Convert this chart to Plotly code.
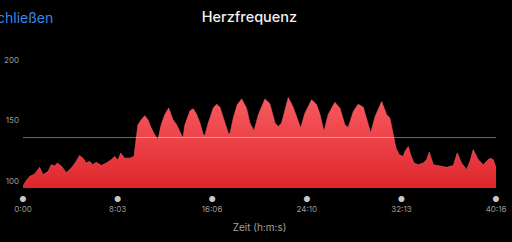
import plotly.graph_objects as go

# time in seconds since start, heart rate (bpm)
time_s = [0, 17, 34, 60, 85, 102, 128, 145, 162, 175, 196, 221, 247, 272, 289, 306, 323, 340,
          357, 374, 400, 425, 451, 468, 485, 499, 519, 545, 567, 574, 587, 604, 622, 638, 655,
          673, 689, 706, 724, 744, 766, 783, 800, 817, 827, 853, 870, 887, 904, 921, 929, 946,
          972, 989, 1006, 1032, 1048, 1057, 1074, 1094, 1117, 1142, 1159, 1180, 1202, 1236,
          1261, 1287, 1304, 1321, 1355, 1380, 1406, 1418, 1440, 1474, 1500, 1517, 1537, 1559,
          1593, 1619, 1644, 1661, 1687, 1712, 1738, 1755, 1776, 1798, 1832, 1857, 1874, 1888,
          1905, 1922, 1942, 1951, 1968, 1980, 1997, 2019, 2044, 2062, 2075, 2096, 2130, 2164,
          2198, 2218, 2240, 2266, 2283, 2300, 2325, 2351, 2368, 2385, 2402, 2411, 2416]
heart_rate = [96, 100.6, 104, 106, 111.5, 105.5, 108, 113.7, 112.5, 115, 112.5, 107, 111, 116.4,
              121.3, 119, 115, 116.4, 113.7, 115.6, 113, 115, 117.8, 120.5, 117.3, 123.3, 119,
              119, 120.5, 130, 146.5, 150.6, 154, 150.6, 143.8, 138.3, 134.2, 146.5, 154.7, 160.2,
              150.6, 147, 141, 135.6, 146.5, 158, 159.6, 155, 147.9, 138.3, 137.7, 147.9, 160.2,
              163.4, 161, 148, 139.7, 139, 152, 162.9, 167.8, 160, 148, 141.6, 154.7, 167.8,
              163.8, 148, 145, 148, 168.9, 161, 148, 143.8, 156, 167, 163, 155, 141, 155,
              165, 160, 146.5, 144.3, 157.4, 163.4, 161, 152, 139.7, 153.2, 165.6, 155, 152, 141,
              127.4, 121.9, 120.5, 124.6, 128.7, 121.9, 115, 113.7, 115, 117.8, 124, 113.7, 112.3,
              111.5, 113, 123.3, 115, 109.6, 116.4, 126, 117.8, 113.7, 116.4, 119, 117.8, 112, 111]

x_tick_vals = [0, 483, 966, 1450, 1933, 2416]
x_tick_labels = ["0:00", "8:03", "16:06", "24:10", "32:13", "40:16"]
y_tick_vals = [100, 150, 200]
reference_hr = 136

fig = go.Figure()
fig.add_trace(go.Scatter(
    x=time_s, y=heart_rate, mode="lines",
    line=dict(color="#f65a5f", width=0.6),
    fill="tozeroy",
    fillgradient=dict(type="vertical", start=94.5, stop=170,
                      colorscale=[[0, "#de262c"], [1, "#f85c61"]]),
    hoverinfo="skip",
))

fig.add_shape(type="line", xref="x", yref="y", x0=time_s[0], x1=time_s[-1],
              y0=reference_hr, y1=reference_hr,
              line=dict(color="rgba(255,255,255,0.42)", width=1))

fig.update_layout(
    width=512, height=242,
    margin=dict(l=23, r=16, t=50, b=53.7, autoexpand=False),
    paper_bgcolor="#000", plot_bgcolor="#000",
    showlegend=False,
    font=dict(family="Inter", color="#9a9a9a", size=8),
    title=dict(text="Herzfrequenz", x=249.5 / 512, xref="container", xanchor="center",
               y=1 - 17 / 242, yref="container", yanchor="middle", automargin=False,
               font=dict(family="Inter", size=14.5, color="#f2f2f2", weight=500)),
    xaxis=dict(range=[0, 2416], showgrid=False, zeroline=False, showline=False,
               automargin=False,
               tickvals=x_tick_vals,
               ticktext=["<span style='color:#c8c8c8;font-size:8px'>●</span><br>" + t
                         for t in x_tick_labels],
               ticks="", ticklabelstandoff=5, tickfont=dict(size=8, color="#9a9a9a"),
               title=dict(text="Zeit (h:m:s)", font=dict(size=10, color="#a0a0a0"),
                          standoff=10)),
    yaxis=dict(range=[94.5, 208], showgrid=False, zeroline=False, showline=False,
               automargin=False,
               tickvals=y_tick_vals, ticks="", ticklabelstandoff=3,
               tickfont=dict(size=8, color="#9a9a9a")),
)

fig.add_annotation(text="Schließen", xref="paper", yref="paper",
                   x=(55 - 23) / 473, y=1 + (50 - 17) / 138.3,
                   xanchor="right", yanchor="middle", showarrow=False,
                   font=dict(family="Inter", size=14, color="#3a86e8"))

fig.write_html("out.html")
